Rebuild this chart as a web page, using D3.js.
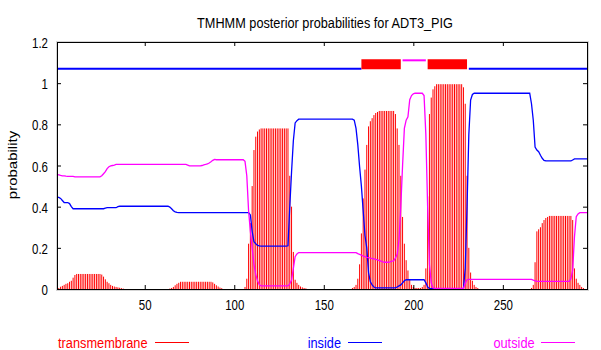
<!DOCTYPE html>
<html><head><meta charset="utf-8">
<script src="https://cdn.jsdelivr.net/npm/d3@7"></script>
<style>body{margin:0;background:#fff}svg{display:block}</style>
</head><body>
<svg id="c" width="601" height="350"></svg>
<script>
const title = "TMHMM posterior probabilities for ADT3_PIG";
const yLabel = "probability";
const seqLength = 297;
const xTicks = [50, 100, 150, 200, 250];
const yTicks = [0, 0.2, 0.4, 0.6, 0.8, 1, 1.2];
const yTickLabels = ["0", "0.2", "0.4", "0.6", "0.8", "1", "1.2"];
const legendLabels = ["transmembrane", "inside", "outside"];
const seriesColors = ["#ff0000", "#0000ff", "#ff00ff"];
// predicted topology shown on top: [state, from, to]
const topology = [["inside", 1, 171], ["TMhelix", 171, 193], ["outside", 194, 207], ["TMhelix", 208, 230], ["inside", 231, 297]];
const topLevels = { inside: 1.07, outside: 1.111, TMhelix: 1.092 };

// posterior probabilities per residue (1..297)
const transmembrane = [
 0,0.005,0.011,0.015,0.02,0.025,0.028,0.035,0.04,0.055,
 0.068,0.073,0.073,0.073,0.073,0.073,0.073,0.073,0.073,0.073,
 0.073,0.073,0.073,0.073,0.073,0.07,0.06,0.047,0.035,0.028,
 0.02,0.015,0.012,0.01,0.008,0.006,0.004,0.002,0,0,
 0,0,0,0,0,0,0,0,0,0,
 0,0,0,0,0,0,0,0,0,0,
 0,0,0,0.002,0.005,0.01,0.018,0.025,0.03,0.035,
 0.035,0.035,0.035,0.035,0.035,0.035,0.035,0.035,0.035,0.035,
 0.035,0.035,0.035,0.035,0.035,0.035,0.035,0.032,0.025,0.018,
 0.012,0.007,0.004,0,0,0,0,0,0,0,
 0,0,0,0,0,0.01,0.05,0.22,0.32,0.5,
 0.675,0.74,0.765,0.775,0.78,0.78,0.78,0.78,0.78,0.78,
 0.78,0.78,0.78,0.78,0.78,0.78,0.78,0.78,0.78,0.78,
 0.55,0.4,0.18,0.045,0.03,0.02,0.012,0.008,0.005,0.003,
 0,0,0,0,0,0,0,0,0,0,
 0,0,0,0,0,0,0,0,0,0,
 0,0,0,0,0,0.005,0.01,0.02,0.05,0.12,
 0.27,0.44,0.58,0.7,0.79,0.815,0.83,0.845,0.855,0.86,
 0.865,0.865,0.865,0.865,0.865,0.865,0.865,0.865,0.865,0.85,
 0.78,0.7,0.55,0.35,0.22,0.14,0.09,0.044,0.02,0.01,
 0.005,0.005,0.005,0.005,0.01,0.02,0.1,0.45,0.85,0.93,
 0.97,0.985,0.995,0.995,0.995,0.995,0.995,0.995,0.995,0.995,
 0.995,0.995,0.995,0.995,0.995,0.995,0.995,0.98,0.9,0.55,
 0.2,0.08,0.04,0.02,0.01,0.005,0,0,0,0,
 0,0,0,0,0,0,0,0,0,0,
 0,0,0,0,0,0,0,0,0,0,
 0,0,0,0,0,0.005,0.02,0.13,0.28,0.29,
 0.3,0.32,0.335,0.345,0.35,0.355,0.355,0.355,0.355,0.355,
 0.355,0.355,0.355,0.355,0.355,0.355,0.355,0.355,0.335,0.1,
 0.05,0.03,0.02,0.01,0.005,0,0
];
const inside = [
 0.446,0.445,0.44,0.43,0.42,0.42,0.42,0.415,0.40,0.39,
 0.39,0.39,0.39,0.39,0.39,0.39,0.39,0.39,0.39,0.39,
 0.39,0.39,0.39,0.39,0.39,0.39,0.39,0.393,0.395,0.395,
 0.395,0.395,0.395,0.395,0.40,0.402,0.402,0.402,0.402,0.402,
 0.402,0.402,0.402,0.402,0.402,0.402,0.402,0.402,0.402,0.402,
 0.402,0.402,0.402,0.402,0.402,0.402,0.402,0.402,0.402,0.402,
 0.402,0.402,0.402,0.398,0.39,0.38,0.375,0.372,0.371,0.371,
 0.371,0.371,0.371,0.371,0.371,0.371,0.371,0.371,0.371,0.371,
 0.371,0.371,0.371,0.371,0.371,0.371,0.371,0.371,0.371,0.371,
 0.371,0.371,0.371,0.371,0.371,0.371,0.371,0.371,0.371,0.371,
 0.371,0.371,0.371,0.371,0.371,0.371,0.371,0.371,0.36,0.28,
 0.23,0.22,0.212,0.209,0.208,0.208,0.208,0.208,0.208,0.208,
 0.208,0.208,0.208,0.208,0.208,0.208,0.208,0.208,0.208,0.21,
 0.40,0.57,0.72,0.807,0.818,0.825,0.825,0.825,0.825,0.825,
 0.825,0.825,0.825,0.825,0.825,0.825,0.825,0.825,0.825,0.825,
 0.825,0.825,0.825,0.825,0.825,0.825,0.825,0.825,0.825,0.825,
 0.825,0.825,0.825,0.825,0.825,0.825,0.82,0.78,0.70,0.594,
 0.5,0.38,0.26,0.2,0.08,0.035,0.02,0.01,0.005,0.005,
 0.005,0.005,0.005,0.005,0.005,0.005,0.005,0.005,0.005,0.005,
 0.01,0.015,0.02,0.03,0.04,0.045,0.045,0.045,0.045,0.045,
 0.045,0.045,0.045,0.045,0.045,0.045,0.03,0.01,0.002,0.002,
 0.002,0.002,0.002,0.002,0.002,0.002,0.002,0.002,0.002,0.002,
 0.002,0.002,0.002,0.002,0.002,0.002,0.002,0.002,0.1,0.4,
 0.75,0.918,0.945,0.951,0.951,0.951,0.951,0.951,0.951,0.951,
 0.951,0.951,0.951,0.951,0.951,0.951,0.951,0.951,0.951,0.951,
 0.951,0.951,0.951,0.951,0.951,0.951,0.951,0.951,0.951,0.951,
 0.951,0.951,0.951,0.951,0.951,0.9,0.82,0.69,0.675,0.667,
 0.65,0.635,0.625,0.622,0.622,0.622,0.622,0.622,0.622,0.622,
 0.622,0.622,0.622,0.622,0.622,0.622,0.622,0.622,0.627,0.632,
 0.632,0.632,0.632,0.632,0.632,0.632,0.632
];
const outside = [
 0.557,0.555,0.552,0.55,0.55,0.548,0.547,0.547,0.547,0.547,
 0.545,0.545,0.545,0.545,0.545,0.545,0.545,0.545,0.545,0.545,
 0.545,0.545,0.545,0.545,0.545,0.55,0.56,0.57,0.585,0.594,
 0.598,0.60,0.602,0.605,0.605,0.605,0.605,0.605,0.605,0.605,
 0.605,0.605,0.605,0.605,0.605,0.605,0.605,0.605,0.605,0.605,
 0.605,0.605,0.605,0.605,0.605,0.605,0.605,0.605,0.605,0.605,
 0.605,0.605,0.605,0.605,0.605,0.605,0.605,0.605,0.605,0.605,
 0.605,0.605,0.605,0.602,0.598,0.598,0.598,0.598,0.598,0.598,
 0.598,0.60,0.603,0.605,0.608,0.612,0.618,0.625,0.63,0.628,
 0.628,0.628,0.628,0.628,0.628,0.628,0.628,0.628,0.628,0.628,
 0.628,0.628,0.628,0.628,0.628,0.62,0.55,0.38,0.28,0.2,
 0.12,0.07,0.04,0.02,0.015,0.015,0.015,0.015,0.015,0.015,
 0.015,0.015,0.015,0.015,0.015,0.015,0.015,0.015,0.015,0.015,
 0.025,0.044,0.1,0.157,0.17,0.177,0.177,0.177,0.177,0.177,
 0.177,0.177,0.177,0.177,0.177,0.177,0.177,0.177,0.177,0.177,
 0.177,0.177,0.177,0.177,0.177,0.177,0.177,0.177,0.177,0.177,
 0.177,0.177,0.177,0.177,0.177,0.177,0.177,0.177,0.172,0.168,
 0.165,0.16,0.157,0.154,0.152,0.15,0.148,0.146,0.144,0.141,
 0.138,0.135,0.132,0.13,0.13,0.13,0.132,0.135,0.137,0.15,
 0.17,0.238,0.4,0.6,0.78,0.82,0.837,0.92,0.94,0.948,
 0.951,0.951,0.951,0.951,0.951,0.94,0.75,0.4,0.12,0.03,
 0.005,0.003,0.003,0.003,0.003,0.003,0.003,0.003,0.003,0.003,
 0.003,0.003,0.003,0.003,0.003,0.003,0.003,0.003,0.028,0.045,
 0.047,0.047,0.047,0.047,0.047,0.047,0.047,0.047,0.047,0.047,
 0.047,0.047,0.047,0.047,0.047,0.047,0.047,0.047,0.047,0.047,
 0.047,0.047,0.047,0.047,0.047,0.047,0.047,0.047,0.047,0.047,
 0.047,0.047,0.047,0.047,0.047,0.047,0.043,0.04,0.037,0.037,
 0.037,0.037,0.037,0.037,0.037,0.037,0.037,0.037,0.037,0.037,
 0.037,0.037,0.037,0.037,0.037,0.037,0.037,0.05,0.092,0.254,
 0.351,0.365,0.371,0.371,0.371,0.371,0.371
];

const FONT = "'Liberation Sans', Arial, Helvetica, sans-serif";
const svg = d3.select("#c");
const x = d3.scaleLinear().domain([1, seqLength]).range([57, 587]);
const y = d3.scaleLinear().domain([0, 1.2]).range([289, 42]);
const residues = d3.range(1, seqLength + 1);

function label(g, txt, tx, ty, opts) {
  const o = Object.assign({ size: 12.5, sy: 1.2, anchor: "start", fill: "#000", rot: 0, len: null }, opts || {});
  const t = g.append("text")
    .attr("transform", `translate(${tx},${ty}) scale(1,${o.sy})` + (o.rot ? ` rotate(${o.rot})` : ""))
    .attr("font-family", FONT).attr("font-size", o.size)
    .attr("text-anchor", o.anchor).attr("fill", o.fill).text(txt);
  if (o.len) t.attr("textLength", o.len).attr("lengthAdjust", "spacingAndGlyphs");
  return t;
}

// frame outline (light dotted halo + black border)
svg.append("rect").attr("x", 56.5).attr("y", 41.5).attr("width", 532).attr("height", 249)
  .attr("fill", "none").attr("stroke", "#aaa").attr("stroke-dasharray", "1,1").attr("stroke-width", 1);

// transmembrane impulses
svg.append("g").selectAll("line").data(residues).join("line")
  .attr("x1", d => x(d)).attr("x2", d => x(d))
  .attr("y1", y(0)).attr("y2", d => y(transmembrane[d - 1]))
  .attr("stroke", seriesColors[0]).attr("stroke-width", 1);

// inside & outside lines
const line = arr => d3.line().x(d => x(d)).y(d => y(arr[d - 1]))(residues);
svg.append("path").attr("d", line(inside)).attr("fill", "none")
  .attr("stroke", seriesColors[1]).attr("stroke-width", 1.3);
svg.append("path").attr("d", line(outside)).attr("fill", "none")
  .attr("stroke", seriesColors[2]).attr("stroke-width", 1.3);

// topology bar on top
const topG = svg.append("g");
topology.forEach(([state, a, b]) => {
  const col = state === "TMhelix" ? seriesColors[0] : state === "inside" ? seriesColors[1] : seriesColors[2];
  topG.append("line").attr("x1", x(a)).attr("x2", x(b))
    .attr("y1", y(topLevels[state])).attr("y2", y(topLevels[state]))
    .attr("stroke", col).attr("stroke-width", state === "TMhelix" ? 10 : 2);
});

// border
svg.append("rect").attr("x", 57.5).attr("y", 42.5).attr("width", 530).attr("height", 247)
  .attr("fill", "none").attr("stroke", "#000").attr("stroke-width", 1);

// axes (ticks point inward, mirrored on top/right)
const xb = svg.append("g").attr("transform", "translate(0,289)")
  .call(d3.axisBottom(x).tickValues(xTicks).tickSizeInner(-4).tickSizeOuter(0).tickPadding(0));
const yl = svg.append("g").attr("transform", "translate(57,0)")
  .call(d3.axisLeft(y).tickValues(yTicks).tickFormat((d, i) => yTickLabels[i]).tickSizeInner(-4).tickSizeOuter(0).tickPadding(9));
svg.append("g").attr("transform", "translate(0,42)")
  .call(d3.axisTop(x).tickValues(xTicks).tickSizeInner(-4).tickSizeOuter(0).tickFormat(""));
svg.append("g").attr("transform", "translate(587,0)")
  .call(d3.axisRight(y).tickValues(yTicks).tickSizeInner(-4).tickSizeOuter(0).tickFormat(""));
svg.selectAll(".domain").remove();
svg.selectAll(".tick line").attr("stroke", "#000");

xb.selectAll("text").attr("y", null).attr("dy", null)
  .attr("transform", "translate(0,20.5) scale(1,1.3)")
  .attr("font-family", FONT).attr("font-size", 11.5).attr("fill", "#000");
yl.selectAll("text").attr("dy", null)
  .attr("transform", "translate(0,5.5) scale(1,1.3)")
  .attr("font-family", FONT).attr("font-size", 11.5).attr("fill", "#000");

// title and y label
label(svg, title, 325, 28, { anchor: "middle", len: 256 });
label(svg, yLabel, 17, 165, { anchor: "middle", rot: -90 });

// legend
const legendPos = [[58, 89.5, 155], [307.7, 33.3, 348], [493.4, 41.2, 541]];
legendLabels.forEach((name, i) => {
  const [tx, tw, lx] = legendPos[i];
  label(svg, name, tx, 348, { fill: seriesColors[i], len: tw });
  svg.append("line").attr("x1", lx).attr("x2", lx + 34).attr("y1", 342.5).attr("y2", 342.5)
    .attr("stroke", seriesColors[i]).attr("stroke-width", 1);
});
</script>
</body></html>
